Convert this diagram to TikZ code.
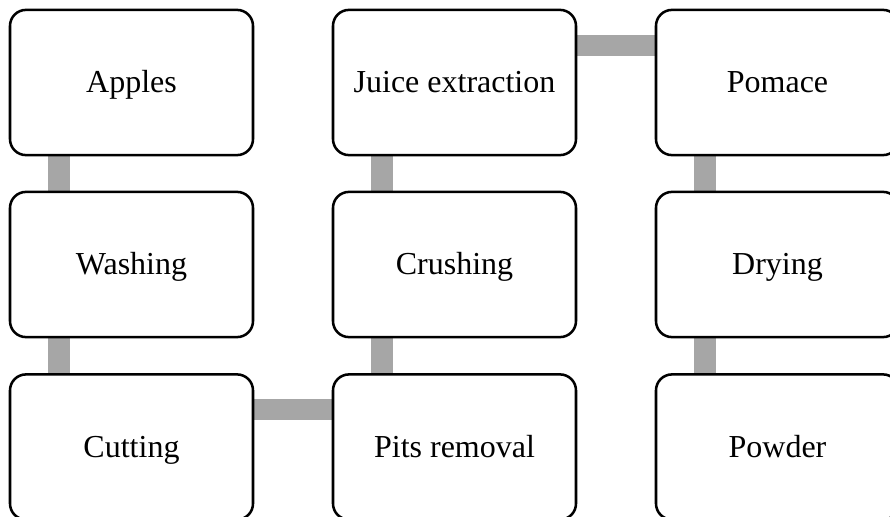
\documentclass[tikz,border=0pt]{standalone}
\usepackage{fontspec}
\setmainfont{Liberation Serif}
\usetikzlibrary{backgrounds}
\definecolor{bargray}{HTML}{A6A6A6}
\tikzset{
  stepbox/.style={draw=black, line width=1.9pt, rounded corners=12pt, fill=white,
    minimum width=182.25pt, minimum height=108.9pt, inner sep=0pt, outer sep=0pt,
    text height=20pt, text depth=4.4pt,
    font=\fontsize{24}{28}\selectfont},
  vbar/.style={draw=bargray, line width=16.5pt, line cap=butt},
  hbar/.style={draw=bargray, line width=15.75pt, line cap=butt}
}
\begin{document}
\begin{tikzpicture}[x=0.75pt, y=-0.75pt]
\useasboundingbox (0,0) rectangle (890,517);
\clip (0,0) rectangle (890,517);
\node[stepbox] (apples) at (131.5,82.5) {Apples};
\node[stepbox] (washing) at (131.5,264.5) {Washing};
\node[stepbox] (cutting) at (131.5,447) {Cutting};
\node[stepbox] (pits) at (454.5,447) {Pits removal};
\node[stepbox] (crushing) at (454.5,264.5) {Crushing};
\node[stepbox] (juice) at (454.5,82.5) {Juice extraction};
\node[stepbox] (pomace) at (777.5,82.5) {Pomace};
\node[stepbox] (drying) at (777.5,264.5) {Drying};
\node[stepbox] (powder) at (777.5,447) {Powder};
\begin{scope}[on background layer]
\draw[vbar] ([xshift=36.75pt]apples.south west) -- ([xshift=36.75pt]washing.north west);
\draw[vbar] ([xshift=36.75pt]washing.south west) -- ([xshift=36.75pt]cutting.north west);
\draw[hbar] ([yshift=-26.3pt]cutting.north east) -- ([yshift=-26.3pt]pits.north west);
\draw[vbar] ([xshift=36.75pt]pits.north west) -- ([xshift=36.75pt]crushing.south west);
\draw[vbar] ([xshift=36.75pt]crushing.north west) -- ([xshift=36.75pt]juice.south west);
\draw[hbar] ([yshift=-26.6pt]juice.north east) -- ([yshift=-26.6pt]pomace.north west);
\draw[vbar] ([xshift=36.75pt]pomace.south west) -- ([xshift=36.75pt]drying.north west);
\draw[vbar] ([xshift=36.75pt]drying.south west) -- ([xshift=36.75pt]powder.north west);
\end{scope}
\end{tikzpicture}
\end{document}
